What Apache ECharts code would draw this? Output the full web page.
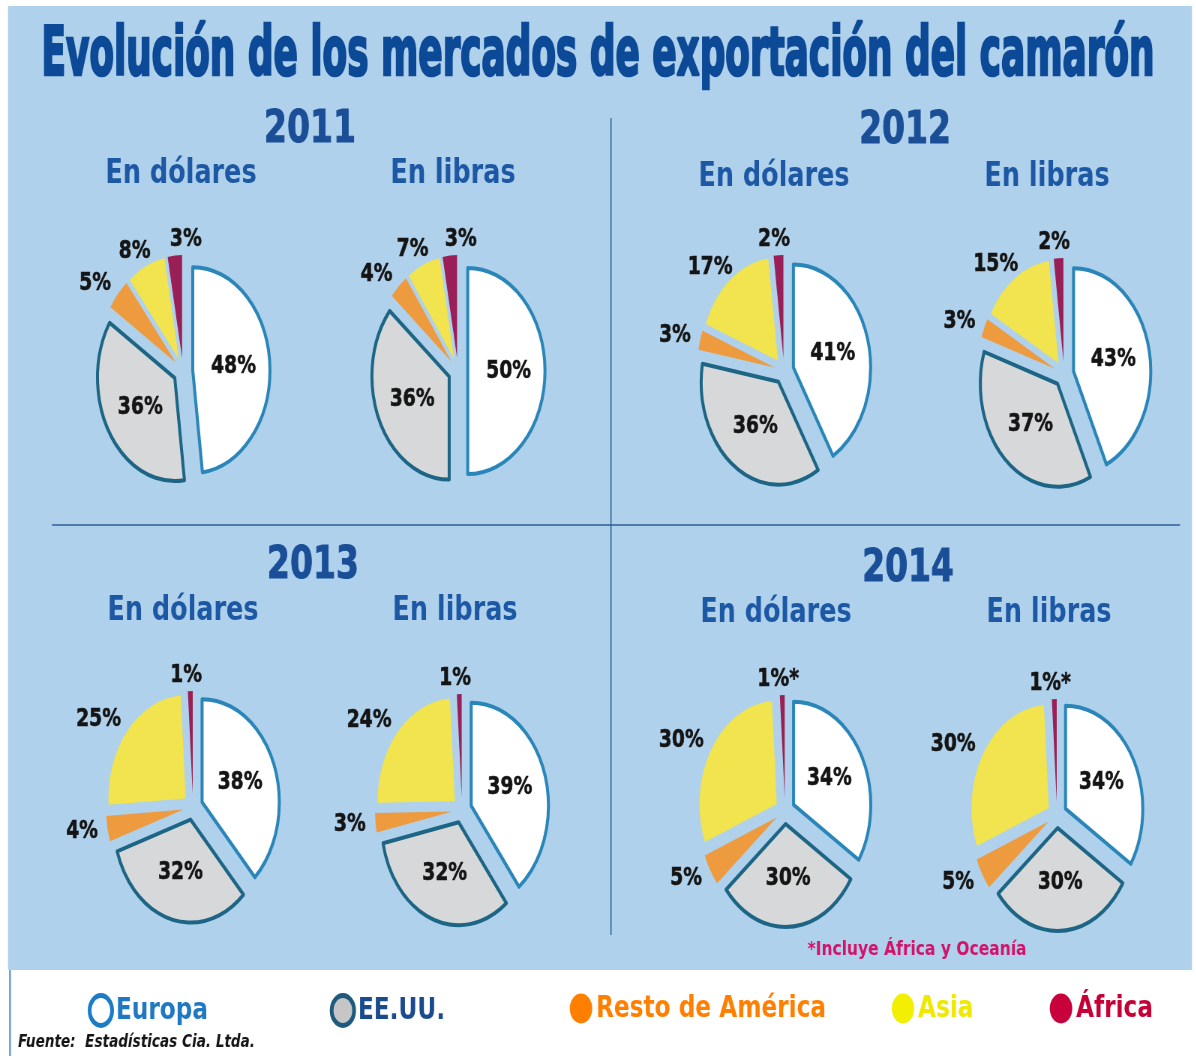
<!DOCTYPE html>
<html>
<head>
<meta charset="utf-8">
<script src="https://cdn.jsdelivr.net/npm/echarts@6/dist/echarts.min.js"></script>
</head>
<body style="margin:0; background:#fff; overflow:hidden">
<div id="container" style="width:1595px; height:1056px; transform:scaleX(0.75); transform-origin:0 0"></div>
<script>
// whole chart is drawn 4/3 wider, then squeezed horizontally -> elliptic pies like the original
var SX = 0.75;
function u(x) { return x / SX; }

var markets = ['Europa', 'EE.UU.', 'Resto de América', 'Asia', 'África'];
var years = ['2011', '2012', '2013', '2014'];
var units = ['En dólares', 'En libras'];

// shares in %, order = markets
var dolares2011 = [48, 36, 5, 8, 3];
var libras2011 = [50, 36, 4, 7, 3];
var dolares2012 = [41, 36, 3, 17, 2];
var libras2012 = [43, 37, 3, 15, 2];
var dolares2013 = [38, 32, 4, 25, 1];
var libras2013 = [39, 32, 3, 24, 1];
var dolares2014 = [34, 30, 5, 30, 1];
var libras2014 = [34, 30, 5, 30, 1];

var footnote = '*Incluye África y Oceanía';
var source = 'Fuente:  Estadísticas Cia. Ltda.';

var pies = [
    { year: '2011', unit: units[0], values: dolares2011, c: [183, 371] },
    { year: '2011', unit: units[1], values: libras2011, c: [458, 371] },
    { year: '2012', unit: units[0], values: dolares2012, c: [784, 371] },
    { year: '2012', unit: units[1], values: libras2012, c: [1064, 374] },
    { year: '2013', unit: units[0], values: dolares2013, c: [193, 807] },
    { year: '2013', unit: units[1], values: libras2013, c: [462, 810] },
    { year: '2014', unit: units[0], values: dolares2014, c: [785, 811] },
    { year: '2014', unit: units[1], values: libras2014, c: [1057, 815] }
];

var sliceStyles = [
    { color: '#ffffff', borderColor: '#2a86b8', borderWidth: 4 },
    { color: '#d7d8d9', borderColor: '#1d6585', borderWidth: 4 },
    { color: '#ee9a3e', borderWidth: 0 },
    { color: '#f1e44f', borderWidth: 0 },
    { color: '#9a1f56', borderWidth: 0 }
];
var legendIcons = [
    { color: '#ffffff', borderColor: '#1b7cc6', borderWidth: 5 },
    { color: '#c6c6c6', borderColor: '#1d5a7c', borderWidth: 5 },
    { color: '#ff8000', borderWidth: 0 },
    { color: '#f3ef00', borderWidth: 0 },
    { color: '#c8003c', borderWidth: 0 }
];
var legendColors = ['#1f78c2', '#1a4b8c', '#ff7f00', '#efe900', '#c60036'];
var legendLeft = [84, 326, 566, 888, 1046];

var yearPos = [[310, 131], [905, 132], [313, 567], [908, 570]];
var unitPos = [[181, 174], [453, 174], [774, 177], [1047, 177], [183, 611], [455, 611], [776, 613], [1049, 613]];

var measureCtx = document.createElement('canvas').getContext('2d');
function fitText(text, font, x, y, refWidth, fill, align, extra) {
    measureCtx.font = font;
    var w = measureCtx.measureText(text).width;
    var el = {
        type: 'text', x: u(x), y: y, scaleX: u(refWidth) / w, silent: true,
        style: { text: text, font: font, fill: fill, textAlign: align || 'center', textVerticalAlign: 'middle' }
    };
    if (extra) Object.assign(el.style, extra);
    return el;
}

var graphic = [
    { type: 'rect', silent: true, z: -10, shape: { x: u(8), y: 6, width: u(1184), height: 964 }, style: { fill: '#b0d1eb' } },
    { type: 'line', silent: true, shape: { x1: u(611), y1: 118, x2: u(611), y2: 935 }, style: { stroke: '#2b5e96', lineWidth: 1.5 } },
    { type: 'line', silent: true, shape: { x1: u(52), y1: 525, x2: u(1180), y2: 525 }, style: { stroke: '#2b5e96', lineWidth: 1.5 } },
    { type: 'line', silent: true, shape: { x1: u(10), y1: 970, x2: u(10), y2: 1056 }, style: { stroke: '#3a86c6', lineWidth: 2 } },
    fitText('Evolución de los mercados de exportación del camarón', 'bold 68px "DejaVu Sans Condensed"', 598, 57, 1113, '#0c4a97',
        'center', { stroke: '#0c4a97', lineWidth: 2.5 }),
    fitText(footnote, 'bold 20px "DejaVu Sans Condensed"', 917, 950, 219, '#d1136b'),
    fitText(source, 'italic bold 17px "DejaVu Sans Condensed"', 18, 1043, 237, '#151515', 'left')
];
years.forEach(function (y, i) {
    graphic.push({
        type: 'text', x: u(yearPos[i][0]), y: yearPos[i][1], silent: true,
        style: { text: y, font: 'bold 44px "DejaVu Sans"', fill: '#1a4f98', textAlign: 'center', textVerticalAlign: 'middle',
            stroke: '#1a4f98', lineWidth: 1 }
    });
});
pies.forEach(function (p, i) {
    graphic.push({
        type: 'text', x: u(unitPos[i][0]), y: unitPos[i][1], silent: true,
        style: { text: p.unit, font: 'bold 34px "DejaVu Sans"', fill: '#1d58a5', textAlign: 'center', textVerticalAlign: 'middle' }
    });
});

var series = pies.map(function (p) {
    return {
        type: 'pie',
        name: p.year + ' ' + p.unit,
        center: [u(p.c[0]), p.c[1]],
        radius: 103,
        startAngle: 90,
        clockwise: true,
        avoidLabelOverlap: false,
        // the thin África wedge gets its label centred (or right of it) above the wedge
        labelLayout: function (params) {
            var r = params.labelRect;
            if (params.dataIndex < 2) return { hideOverlap: false };
            if (params.dataIndex === 3 || params.dataIndex === 2) {
                return { dx: p.values[params.dataIndex] < 20 && params.dataIndex === 3 ? 18 : 8, hideOverlap: false };
            }
            var anchor = r.x + r.width;
            var wide = p.values[4] >= 3;
            return {
                x: wide ? anchor - 2 : anchor + 4,
                y: r.y + r.height / 2 - 3,
                align: wide ? 'left' : 'center',
                verticalAlign: 'middle',
                hideOverlap: false
            };
        },
        selectedMode: 'multiple',
        selectedOffset: 13,
        label: {
            fontFamily: 'DejaVu Sans', fontWeight: 'bold', fontSize: 25, color: '#141414',
            textBorderColor: '#141414', textBorderWidth: 0.6,
            formatter: function (d) {
                return d.value + '%' + (p.year === '2014' && d.name === 'África' ? '*' : '');
            }
        },
        labelLine: { show: false, length: 16, length2: 0 },
        emphasis: { disabled: true },
        data: p.values.map(function (v, i) {
            return {
                name: markets[i], value: v, selected: true,
                itemStyle: sliceStyles[i],
                label: { position: i < 2 ? 'inside' : 'outside' }
            };
        })
    };
});

var legend = markets.map(function (m, i) {
    return {
        left: u(legendLeft[i]), top: 988,
        icon: 'circle', itemWidth: 30, itemHeight: 32,
        selectedMode: false,
        textStyle: { fontFamily: 'DejaVu Sans', fontWeight: 'bold', fontSize: 31 },
        data: [{ name: m, itemStyle: legendIcons[i], textStyle: { color: legendColors[i] } }]
    };
});

var myChart = echarts.init(document.getElementById('container'));
myChart.setOption({
    backgroundColor: '#ffffff',
    animation: false,
    graphic: graphic,
    legend: legend,
    series: series
});
</script>
</body>
</html>
